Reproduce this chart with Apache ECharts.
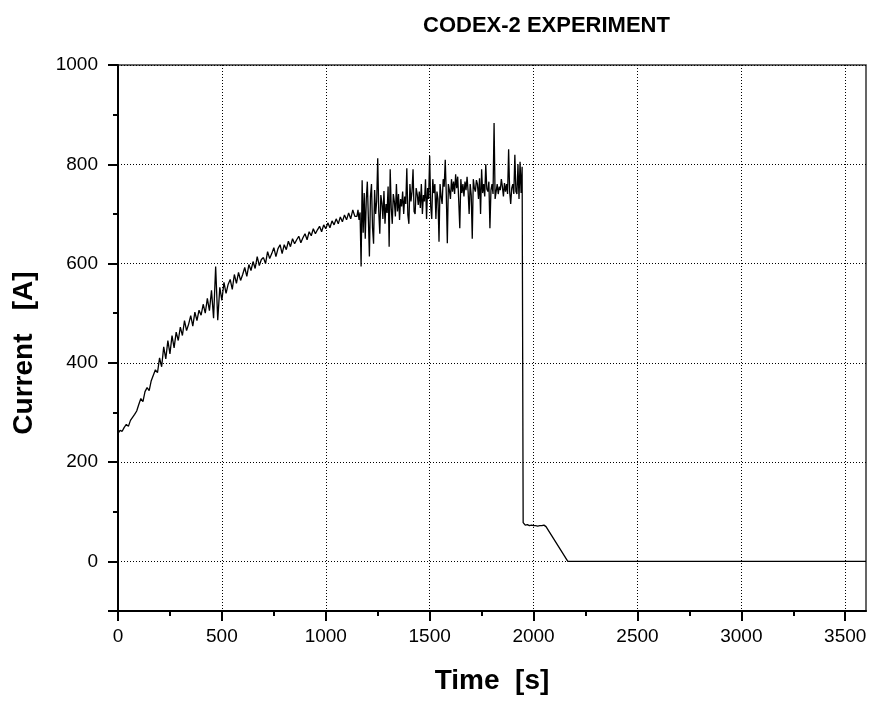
<!DOCTYPE html>
<html>
<head>
<meta charset="utf-8">
<script src="https://cdn.jsdelivr.net/npm/echarts@6/dist/echarts.min.js"></script>
<style>
html,body{margin:0;padding:0;background:#fff;}
#chart{width:874px;height:704px;}
</style>
</head>
<body>
<div id="chart"></div>
<script>
// ---- data ----
// ramp phase, sampled every 10 s
const rampTimes = [
  0,10,20,30,40,50,60,70,80,90,
  100,110,120,130,140,150,160,170,180,190,
  200,210,220,230,240,250,260,270,280,290,
  300,310,320,330,340,350,360,370,380,390,
  400,410,420,430,440,450,460,470,480,490,
  500,510,520,530,540,550,560,570,580,590,
  600,610,620,630,640,650,660,670,680,690,
  700,710,720,730,740,750,760,770,780,790,
  800,810,820,830,840,850,860,870,880,890,
  900,910,920,930,940,950,960,970,980,990,
  1000,1010,1020,1030,1040,1050,1060,1070,1080,1090,
  1100,1110,1120,1130,1140
];
const rampCurrent = [
  258,264,262,270,276,272,284,290,296,303,
  316,328,322,342,350,344,364,375,386,380,
  410,392,432,408,445,418,455,430,462,445,
  472,455,485,465,478,495,474,502,485,506,
  496,518,500,530,505,546,490,594,486,552,
  526,562,540,558,568,548,578,560,582,566,
  578,592,574,598,586,604,590,614,596,608,
  612,600,624,610,620,632,614,630,638,620,
  638,628,645,634,650,640,648,655,642,652,
  660,648,664,656,670,660,668,675,664,678,
  670,682,672,686,678,690,680,694,684,698,
  688,702,690,708,695
];
// unstable phase, sampled every 5 s
const noisyTimes = [
  1150,1155,1160,1165,1170,1175,1180,1185,1190,1195,
  1200,1205,1210,1215,1220,1225,1230,1235,1240,1245,
  1250,1255,1260,1265,1270,1275,1280,1285,1290,1295,
  1300,1305,1310,1315,1320,1325,1330,1335,1340,1345,
  1350,1355,1360,1365,1370,1375,1380,1385,1390,1395,
  1400,1405,1410,1415,1420,1425,1430,1435,1440,1445,
  1450,1455,1460,1465,1470,1475,1480,1485,1490,1495,
  1500,1505,1510,1515,1520,1525,1530,1535,1540,1545,
  1550,1555,1560,1565,1570,1575,1580,1585,1590,1595,
  1600,1605,1610,1615,1620,1625,1630,1635,1640,1645,
  1650,1655,1660,1665,1670,1675,1680,1685,1690,1695,
  1700,1705,1710,1715,1720,1725,1730,1735,1740,1745,
  1750,1755,1760,1765,1770,1775,1780,1785,1790,1795,
  1800,1805,1810,1815,1820,1825,1830,1835,1840,1845,
  1850,1855,1860,1865,1870,1875,1880,1885,1890,1895,
  1900,1905,1910,1915,1920,1925,1930,1935,1940,1945
];
const noisyCurrent = [
  695,708,688,703,594,768,662,742,650,730,
  765,690,614,735,760,672,640,748,700,725,
  812,705,660,738,722,690,746,680,720,702,
  755,634,790,712,680,740,725,695,760,705,
  740,688,730,715,745,700,735,720,792,698,
  680,760,725,745,790,705,700,752,740,718,
  745,712,760,700,738,725,770,690,752,730,
  817,715,690,770,742,760,690,745,730,644,
  760,735,720,770,755,809,740,641,760,748,
  730,770,745,765,740,780,752,775,725,671,
  770,742,760,735,765,748,775,745,700,760,
  738,650,770,752,745,768,760,730,772,700,
  790,742,760,735,800,750,745,765,671,748,
  760,740,883,730,745,760,740,755,748,770,
  755,735,762,745,760,740,830,745,720,752,
  760,740,819,745,740,800,730,805,742,795
];
// shutdown phase
const tailTimes   = [1950,1960,1970,1980,1990,2000,2010,2020,2030,2040,2050,2060,2165,3600];
const tailCurrent = [78,73,74,72,73,72,72,71,72,72,73,70,0,0];

const xMajorTicks = [0,500,1000,1500,2000,2500,3000,3500];
const xMinorTicks = [250,750,1250,1750,2250,2750,3250];
const yMajorTicks = [0,200,400,600,800,1000];
const yMinorTicks = [100,300,500,700,900];
const yTickMarks = [-100,0,200,400,600,800,1000];

const titleText = 'CODEX-2 EXPERIMENT';
const xName = 'Time  [s]';
const yName = 'Current   [A]';

const times = rampTimes.concat(noisyTimes, tailTimes);
const current = rampCurrent.concat(noisyCurrent, tailCurrent);
const seriesData = times.map((t, i) => [t, current[i]]);

const FONT = '"Liberation Sans", Arial, Helvetica, sans-serif';
const gridLine = {show: true, lineStyle: {color: '#000', width: 1, type: [1, 2]}};

const chart = echarts.init(document.getElementById('chart'), null, {renderer: 'canvas'});
chart.setOption({
  animation: false,
  backgroundColor: '#fff',
  title: {
    text: titleText,
    left: 418, top: 10,
    textStyle: {fontFamily: FONT, fontWeight: 'bold', fontSize: 22, color: '#000'}
  },
  grid: {
    left: 118, right: 8, top: 65, bottom: 93,
    show: true, borderColor: '#333', borderWidth: 1.5, backgroundColor: 'transparent'
  },
  xAxis: [{
    type: 'value', min: 0, max: 3600, interval: 500, position: 'bottom',
    name: xName, nameLocation: 'middle', nameGap: 56,
    nameTextStyle: {fontFamily: FONT, fontWeight: 'bold', fontSize: 28, color: '#000'},
    axisLine: {show: true, onZero: false, lineStyle: {color: '#000', width: 2}},
    axisTick: {show: true, inside: false, length: 10, lineStyle: {color: '#000', width: 2}, customValues: xMajorTicks},
    axisLabel: {show: true, margin: 16, fontFamily: FONT, fontSize: 19, color: '#000', customValues: xMajorTicks,
      formatter: v => String(v)},
    splitLine: gridLine
  }, {
    type: 'value', min: 0, max: 3600, interval: 250, position: 'bottom',
    axisLine: {show: false, onZero: false},
    axisTick: {show: true, inside: false, length: 5, lineStyle: {color: '#000', width: 2}, customValues: xMinorTicks},
    axisLabel: {show: false},
    splitLine: {show: false}
  }],
  yAxis: [{
    type: 'value', min: -100, max: 1000, splitNumber: 5, position: 'left',
    name: yName, nameLocation: 'middle', nameGap: 80, nameRotate: 90,
    nameTextStyle: {fontFamily: FONT, fontWeight: 'bold', fontSize: 28, color: '#000', padding: [0, 30, 0, 0]},
    axisLine: {show: true, onZero: false, lineStyle: {color: '#000', width: 2}},
    axisTick: {show: true, inside: false, length: 10, lineStyle: {color: '#000', width: 2}, customValues: yTickMarks},
    axisLabel: {show: true, margin: 20, fontFamily: FONT, fontSize: 19, color: '#000', customValues: yMajorTicks,
      formatter: v => String(v)},
    splitLine: gridLine
  }, {
    type: 'value', min: -100, max: 1000, interval: 100, position: 'left',
    axisLine: {show: false, onZero: false},
    axisTick: {show: true, inside: false, length: 5, lineStyle: {color: '#000', width: 2}, customValues: yMinorTicks},
    axisLabel: {show: false},
    splitLine: {show: false}
  }],
  series: [{
    type: 'line',
    xAxisIndex: 0, yAxisIndex: 0,
    data: seriesData,
    showSymbol: false, symbol: 'none',
    sampling: null,
    lineStyle: {color: '#000', width: 1.3},
    z: 5
  }]
});
</script>
</body>
</html>
